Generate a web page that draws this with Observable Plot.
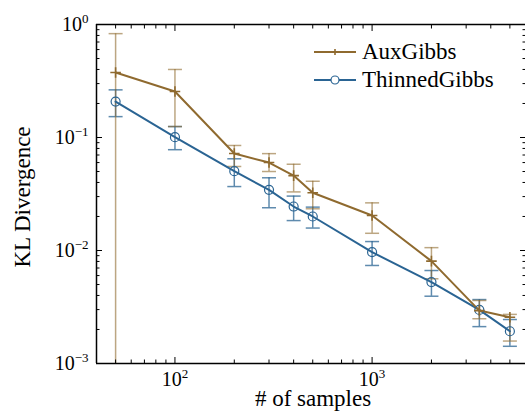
<!DOCTYPE html>
<html>
<head>
<meta charset="utf-8">
<script src="https://cdn.jsdelivr.net/npm/d3@7"></script>
<script src="https://cdn.jsdelivr.net/npm/@observablehq/plot@0.6"></script>
<style>
  html, body { margin: 0; padding: 0; background: #fff; }
  #wrap { position: relative; width: 525px; height: 411px; overflow: hidden; }
  #wrap svg, #wrap svg text { font-family: 'Liberation Serif', 'DejaVu Serif', serif !important; }
  #legend { position: absolute; left: 300px; top: 30px; }
</style>
</head>
<body>
<div id="wrap"></div>
<script>
// ---- data ----
const samples = [50, 100, 200, 300, 400, 500, 1000, 2000, 3500, 5000];

const auxMean = [0.376, 0.255, 0.0721, 0.060, 0.046, 0.0324, 0.0204, 0.00805, 0.00294, 0.00257];
const auxHigh = [0.83, 0.40, 0.085, 0.072, 0.058, 0.041, 0.0264, 0.0106, 0.00361, 0.00272];
const auxLow  = [1e-9, 0.125, 0.0554, 0.050, 0.033, 0.0234, 0.0142, 0.00562, 0.00249, 0.00158];

const thinMean = [0.208, 0.1006, 0.0503, 0.0344, 0.0245, 0.020, 0.00966, 0.00525, 0.00298, 0.00193];
const thinHigh = [0.264, 0.125, 0.0648, 0.044, 0.0303, 0.0242, 0.0120, 0.00665, 0.00368, 0.00245];
const thinLow  = [0.153, 0.078, 0.0368, 0.0239, 0.0184, 0.0158, 0.00737, 0.00394, 0.00212, 0.00142];

const seriesNames = ["AuxGibbs", "ThinnedGibbs"];
const seriesColors = ["#8f6a2f", "#2a6493"];

const xMajor = [100, 1000];
const xTickLabels = ["10^2", "10^3"];
const xMinor = [50, 60, 70, 80, 90, 200, 300, 400, 500, 600, 700, 800, 900, 2000, 3000, 4000, 5000, 6000];
const yMajor = [0.001, 0.01, 0.1, 1];
const yTickLabels = ["10^-3", "10^-2", "10^-1", "10^0"];
const yMinor = [0.002, 0.003, 0.004, 0.005, 0.006, 0.007, 0.008, 0.009,
                0.02, 0.03, 0.04, 0.05, 0.06, 0.07, 0.08, 0.09,
                0.2, 0.3, 0.4, 0.5, 0.6, 0.7, 0.8, 0.9];

// ---- tables ----
const aux = samples.map((n, i) => ({n, mean: auxMean[i], hi: auxHigh[i], lo: auxLow[i]}));
const thin = samples.map((n, i) => ({n, mean: thinMean[i], hi: thinHigh[i], lo: thinLow[i]}));

const capSymbol = {
  draw(context, size) {
    const r = Math.sqrt(size / Math.PI);
    context.moveTo(-r, 0);
    context.lineTo(r, 0);
  }
};

const serif = "'Liberation Serif', 'DejaVu Serif', serif";

function errorMarks(data, color, opacity) {
  return [
    Plot.ruleX(data, {x: "n", y1: "lo", y2: "hi", stroke: color, strokeOpacity: opacity, strokeWidth: 1.5, clip: true}),
    Plot.dot(data, {x: "n", y: "hi", symbol: capSymbol, r: 7, stroke: color, strokeOpacity: opacity, strokeWidth: 1.5, fill: "none", clip: true}),
    Plot.dot(data.filter(d => d.lo > 0.001), {x: "n", y: "lo", symbol: capSymbol, r: 7, stroke: color, strokeOpacity: opacity, strokeWidth: 1.5, fill: "none", clip: true})
  ];
}

const chart = Plot.plot({
  width: 525,
  height: 411,
  marginLeft: 96,
  marginTop: 24,
  marginBottom: 48,
  marginRight: 0,
  x: {type: "log", domain: [40, 6000]},
  y: {type: "log", domain: [0.001, 1]},
  style: {fontFamily: serif, fontSize: "20px", background: "#fff", color: "#000", overflow: "visible"},
  marks: [
    ...errorMarks(thin, seriesColors[1], 0.75),
    ...errorMarks(aux, seriesColors[0], 0.6),
    Plot.line(thin, {x: "n", y: "mean", stroke: seriesColors[1], strokeWidth: 2}),
    Plot.line(aux, {x: "n", y: "mean", stroke: seriesColors[0], strokeWidth: 2}),
    Plot.dot(thin, {x: "n", y: "mean", r: 4.5, stroke: seriesColors[1], strokeWidth: 1.2, fill: "none"}),
    Plot.dot(aux, {x: "n", y: "mean", r: 3.5, symbol: "plus", stroke: seriesColors[0], strokeWidth: 1.6}),
    // inward ticks
    Plot.axisX({ticks: xMajor, anchor: "bottom", tickSize: -6, tickFormat: () => "", label: null}),
    Plot.axisX({ticks: xMinor, anchor: "bottom", tickSize: -3.5, tickFormat: () => "", label: null}),
    Plot.axisX({ticks: xMajor, anchor: "top", tickSize: -6, tickFormat: () => "", label: null}),
    Plot.axisX({ticks: xMinor, anchor: "top", tickSize: -3.5, tickFormat: () => "", label: null}),
    Plot.axisY({ticks: yMajor, anchor: "left", tickSize: -6, tickFormat: () => "", label: null}),
    Plot.axisY({ticks: yMinor, anchor: "left", tickSize: -3.5, tickFormat: () => "", label: null}),
    Plot.axisY({ticks: yMajor, anchor: "right", tickSize: -6, tickFormat: () => "", label: null}),
    Plot.axisY({ticks: yMinor, anchor: "right", tickSize: -3.5, tickFormat: () => "", label: null}),
    // tick labels
    Plot.axisX({ticks: xMajor, anchor: "bottom", tickSize: 0, tickPadding: 8, fontSize: 20, fontFamily: serif,
                tickFormat: d => xTickLabels[xMajor.indexOf(d)], label: null}),
    Plot.axisY({ticks: yMajor, anchor: "left", tickSize: 0, tickPadding: 8, fontSize: 20, fontFamily: serif,
                tickFormat: d => yTickLabels[yMajor.indexOf(d)], label: null}),
    // spines
    Plot.ruleY([0.001, 1], {stroke: "#000", strokeWidth: 1.5}),
    Plot.ruleX([40], {stroke: "#000", strokeWidth: 1.5}),
    // axis titles
    Plot.text(["# of samples"], {frameAnchor: "bottom", textAnchor: "middle", lineAnchor: "middle",
                                 dy: 35.5, dx: 2, fontSize: 23, fontFamily: serif, fill: "#000"}),
    Plot.text(["KL Divergence"], {frameAnchor: "left", textAnchor: "middle", lineAnchor: "middle",
                                  rotate: -90, dx: -74, dy: 3, fontSize: 23, fontFamily: serif, fill: "#000"})
  ]
});

// superscript exponents in tick labels
const NS = "http://www.w3.org/2000/svg";
chart.querySelectorAll("text").forEach(t => {
  const m = t.textContent.match(/^10\^(.+)$/);
  if (m) {
    t.textContent = "10";
    const ts = document.createElementNS(NS, "tspan");
    ts.setAttribute("dy", "-8");
    ts.setAttribute("font-size", "13");
    ts.textContent = m[1].replace("-", "\u2212");
    t.appendChild(ts);
  }
});

document.getElementById("wrap").appendChild(chart);

// legend (inside the axes, upper right)
const leg = d3.select("#wrap").append("svg")
  .attr("id", "legend").attr("width", 220).attr("height", 64)
  .style("font-family", serif);
seriesNames.forEach((name, i) => {
  const yy = 22 + i * 28;
  const g = leg.append("g");
  g.append("line").attr("x1", 14).attr("x2", 56).attr("y1", yy).attr("y2", yy)
    .attr("stroke", seriesColors[i]).attr("stroke-width", 2);
  if (i === 0) {
    g.append("path").attr("d", "M32,"+yy+"h6M35,"+(yy-3)+"v6")
      .attr("stroke", seriesColors[i]).attr("stroke-width", 1.6).attr("fill", "none");
  } else {
    g.append("circle").attr("cx", 35).attr("cy", yy).attr("r", 4)
      .attr("stroke", seriesColors[i]).attr("stroke-width", 1.2).attr("fill", "#fff");
  }
  g.append("text").attr("x", 62).attr("y", yy + 7).attr("font-size", 23).attr("fill", "#000").text(name);
});
</script>
</body>
</html>
